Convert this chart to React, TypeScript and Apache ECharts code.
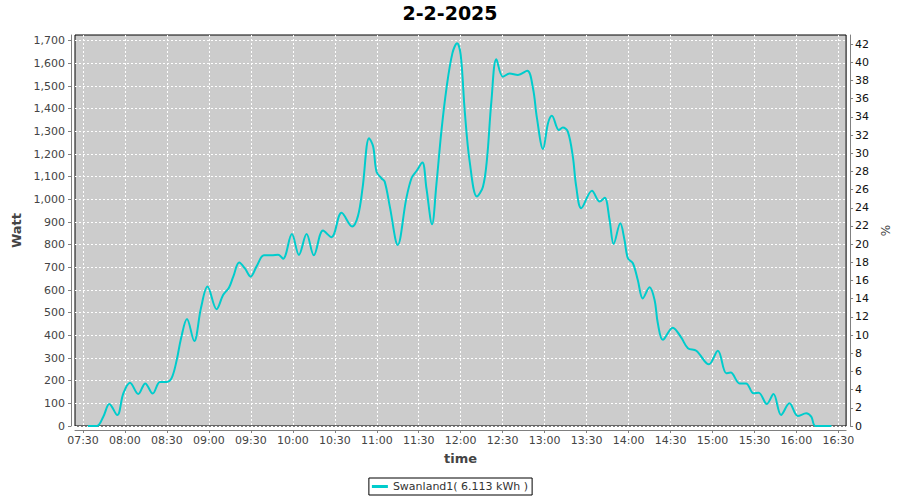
import React, { useEffect, useRef } from "react";
import * as echarts from "echarts";

const TITLE = "2-2-2025";
const SERIES_NAME = "Swanland1( 6.113 kWh )";
const X_NAME = "time";
const Y_NAME = "Watt";
const Y2_NAME = "%";

const TIMES = [
  "07:33:30", "07:40:00", "07:44:30", "07:48:50", "07:54:30", "07:58:50", "08:03:35", "08:09:30",
  "08:14:30", "08:19:50", "08:25:00", "08:29:50", "08:33:25", "08:37:00", "08:40:00", "08:44:20",
  "08:49:30", "08:54:20", "08:59:00", "09:05:30", "09:10:10", "09:14:20", "09:17:25", "09:21:40",
  "09:25:40", "09:29:50", "09:34:00", "09:39:20", "09:44:50", "09:49:30", "09:53:00", "09:59:20",
  "10:04:20", "10:09:50", "10:15:00", "10:21:35", "10:27:35", "10:34:50", "10:42:25", "10:46:35",
  "10:49:50", "10:54:30", "10:57:25", "10:59:50", "11:03:20", "11:05:40", "11:09:20", "11:15:00",
  "11:21:00", "11:24:50", "11:28:25", "11:32:35", "11:35:30", "11:39:30", "11:42:35", "11:46:10",
  "11:49:50", "11:54:05", "11:57:25", "12:00:00", "12:02:55", "12:06:25", "12:11:35", "12:15:55",
  "12:18:50", "12:21:55", "12:25:30", "12:30:10", "12:35:00", "12:40:55", "12:47:35", "12:51:40",
  "12:54:30", "12:58:50", "13:02:25", "13:05:10", "13:10:10", "13:13:00", "13:16:35", "13:20:10",
  "13:22:35", "13:26:10", "13:33:50", "13:39:20", "13:42:55", "13:46:25", "13:49:20", "13:54:05",
  "13:57:05", "13:59:30", "14:03:05", "14:06:35", "14:10:10", "14:15:00", "14:18:35", "14:20:55",
  "14:24:30", "14:31:35", "14:37:35", "14:42:25", "14:48:25", "14:57:25", "15:03:50", "15:09:50",
  "15:13:00", "15:19:20", "15:24:00", "15:29:20", "15:33:00", "15:38:50", "15:43:35", "15:49:00",
  "15:55:00", "16:01:00", "16:07:00", "16:10:35", "16:13:35", "16:25:00"
];

const WATTS = [
  0, 0, 41, 97, 48, 144, 191, 141,
  188, 143, 194, 194, 212, 291, 384, 472,
  375, 521, 615, 515, 578, 610, 659, 721,
  696, 659, 703, 753, 753, 756, 738, 847,
  755, 847, 753, 862, 833, 941, 880, 927,
  1049, 1270, 1233, 1122, 1093, 1078, 968, 799,
  1000, 1093, 1125, 1162, 1049, 890, 1063, 1299,
  1490, 1645, 1689, 1637, 1387, 1166, 1012, 1056,
  1181, 1431, 1618, 1541, 1555, 1549, 1567, 1490,
  1358, 1222, 1336, 1369, 1306, 1317, 1299, 1188,
  1056, 961, 1038, 990, 1007, 909, 803, 894,
  821, 740, 718, 644, 563, 612, 556, 453,
  380, 434, 391, 343, 332, 272, 332, 233,
  236, 188, 188, 144, 147, 97, 141, 49,
  100, 44, 56, 41, 0, 0
];

const X_TICKS = [
  "07:30", "08:00", "08:30", "09:00", "09:30", "10:00", "10:30", "11:00", "11:30", "12:00",
  "12:30", "13:00", "13:30", "14:00", "14:30", "15:00", "15:30", "16:00", "16:30"
];
const WATT_TICKS = [0, 100, 200, 300, 400, 500, 600, 700, 800, 900, 1000, 1100, 1200, 1300, 1400, 1500, 1600, 1700];
const PCT_TICKS = [0, 2, 4, 6, 8, 10, 12, 14, 16, 18, 20, 22, 24, 26, 28, 30, 32, 34, 36, 38, 40, 42];

const X_MIN = "07:24:17";
const X_MAX = "16:35:30";
const WATT_MAX = 1725;
const PCT_MAX = 43;

const toMin = (s: string) => {
  const p = s.split(":").map(Number);
  return p[0] * 60 + p[1] + (p[2] || 0) / 60;
};
const fmtTime = (v: number) => {
  const h = Math.floor(v / 60 + 1e-6);
  const m = Math.round(v - h * 60);
  return String(h).padStart(2, "0") + ":" + String(m).padStart(2, "0");
};

const FONT = "DejaVu Sans";
const LINE_COLOR = "#00CCCC";

export default function App() {
  const ref = useRef<HTMLDivElement>(null);
  useEffect(() => {
    if (!ref.current) return;
    const chart = echarts.init(ref.current, null, { renderer: "svg" });
    const data = TIMES.map((t, i) => [toMin(t), WATTS[i]]);
    chart.setOption({
      animation: false,
      backgroundColor: "#ffffff",
      textStyle: { fontFamily: FONT },
      title: {
        text: TITLE,
        left: "center",
        top: 3,
        padding: 0,
        textStyle: { fontFamily: FONT, fontSize: 19, fontWeight: "bold", color: "#000" },
      },
      legend: {
        top: 478,
        left: "center",
        icon: "rect",
        itemWidth: 16,
        itemHeight: 3,
        padding: [3, 4, 3, 3],
        borderColor: "#000",
        borderWidth: 1,
        backgroundColor: "#fff",
        textStyle: { fontFamily: FONT, fontSize: 11, color: "#333" },
        data: [SERIES_NAME],
      },
      grid: {
        left: 75,
        right: 53,
        top: 35,
        bottom: 74,
        show: true,
        backgroundColor: "#cccccc",
        borderColor: "#000",
        borderWidth: 1,
      },
      xAxis: {
        type: "value",
        min: toMin(X_MIN),
        max: toMin(X_MAX),
        offset: 4,
        name: X_NAME,
        nameLocation: "middle",
        nameGap: 22,
        nameTextStyle: { fontFamily: FONT, fontSize: 13, fontWeight: "bold", color: "#444" },
        axisLine: { show: true, onZero: false, lineStyle: { color: "#808080", width: 1 } },
        axisTick: { show: true, length: 3, lineStyle: { color: "#808080" }, customValues: X_TICKS.map(toMin) },
        axisLabel: {
          customValues: X_TICKS.map(toMin),
          formatter: (v: number) => fmtTime(v),
          fontFamily: FONT,
          fontSize: 11,
          color: "#444",
          margin: 5,
        },
        splitLine: { show: true, lineStyle: { color: "#ffffff", type: [2, 2], width: 1 } },
      },
      yAxis: [
        {
          type: "value",
          min: 0,
          max: WATT_MAX,
          offset: 4,
          name: Y_NAME,
          nameLocation: "middle",
          nameGap: 41,
          nameTextStyle: { fontFamily: FONT, fontSize: 13, fontWeight: "bold", color: "#444" },
          axisLine: { show: true, onZero: false, lineStyle: { color: "#808080", width: 1 } },
          axisTick: { show: true, length: 3, lineStyle: { color: "#808080" }, customValues: WATT_TICKS },
          axisLabel: {
            customValues: WATT_TICKS,
            formatter: (v: number) => v.toLocaleString("en-US"),
            fontFamily: FONT,
            fontSize: 11,
            color: "#444",
            margin: 6,
          },
          splitLine: { show: true, lineStyle: { color: "#ffffff", type: [2, 2], width: 1 } },
        },
        {
          type: "value",
          position: "right",
          min: 0,
          max: PCT_MAX,
          offset: 4,
          name: Y2_NAME,
          nameLocation: "middle",
          nameGap: 26,
          nameTextStyle: { fontFamily: FONT, fontSize: 12, color: "#444" },
          axisLine: { show: true, onZero: false, lineStyle: { color: "#808080", width: 1 } },
          axisTick: { show: true, length: 3, lineStyle: { color: "#808080" }, customValues: PCT_TICKS },
          axisLabel: {
            customValues: PCT_TICKS,
            fontFamily: FONT,
            fontSize: 11,
            color: "#111",
            margin: 5,
          },
          splitLine: { show: false },
        },
      ],
      series: [
        {
          name: SERIES_NAME,
          type: "line",
          yAxisIndex: 0,
          data,
          smooth: 0.35,
          showSymbol: false,
          symbol: "none",
          lineStyle: { color: LINE_COLOR, width: 2 },
          itemStyle: { color: LINE_COLOR },
        },
      ],
    });
    return () => chart.dispose();
  }, []);
  return (
    <div
      ref={ref}
      style={{ position: "fixed", left: 0, top: 0, width: 900, height: 500 }}
    />
  );
}
